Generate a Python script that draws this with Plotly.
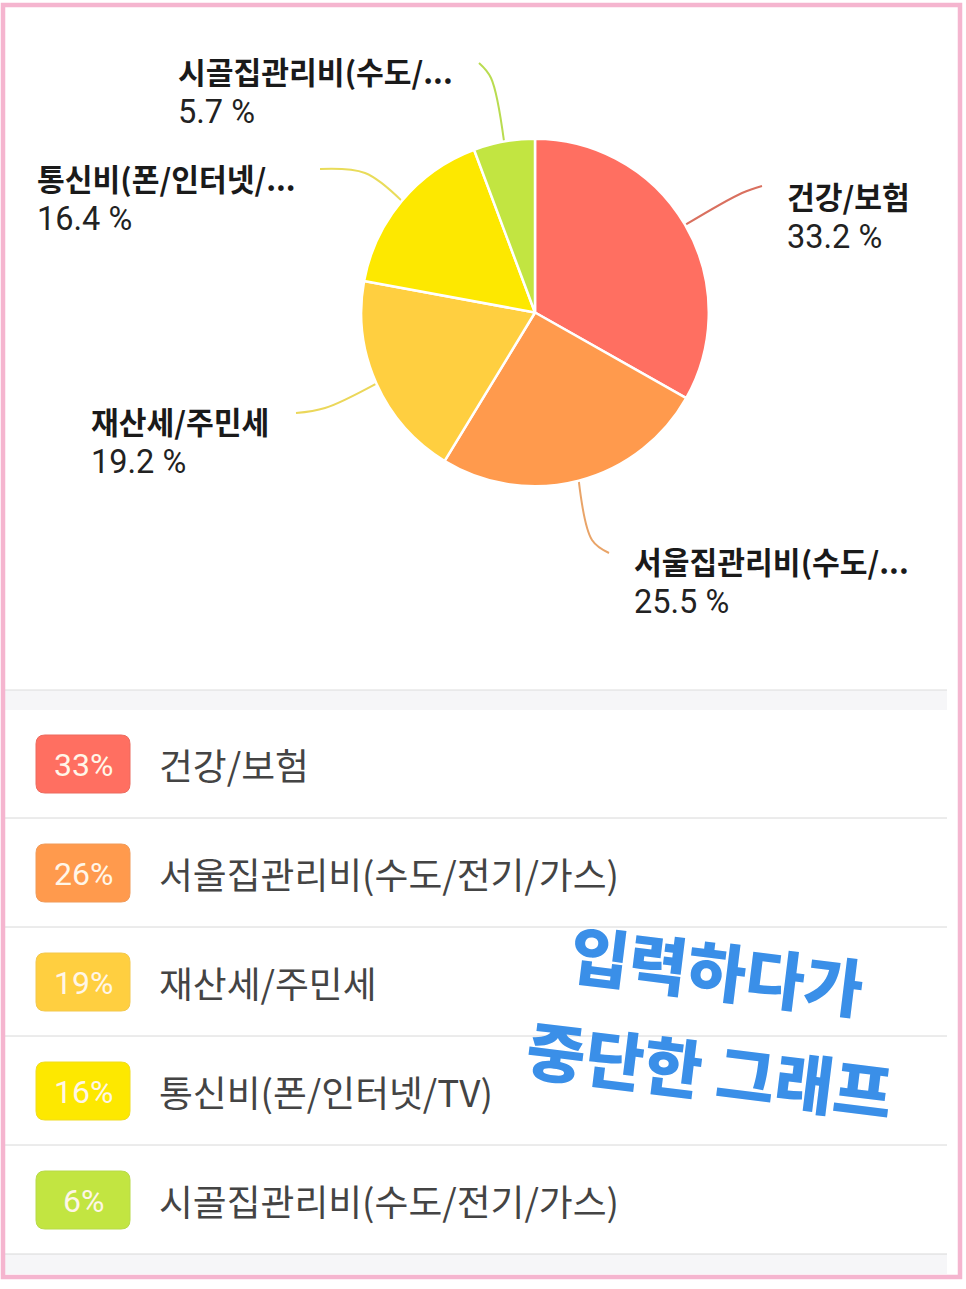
import math
import plotly.graph_objects as go

W, H = 966, 1289

# chart data
short_labels = ['건강/보험', '서울집관리비(수도/...', '재산세/주민세', '통신비(폰/인터넷/...', '시골집관리비(수도/...']
full_labels = ['건강/보험', '서울집관리비(수도/전기/가스)', '재산세/주민세', '통신비(폰/인터넷/TV)', '시골집관리비(수도/전기/가스)']
values = [33.2, 25.5, 19.2, 16.4, 5.7]
badge_text = ['33%', '26%', '19%', '16%', '6%']
colors = ['#FF6F61', '#FF9A4D', '#FFCF40', '#FDE800', '#C2E541']
badge_edges = ['#EC6A5E', '#F09A58', '#F3C84C', '#F0DC20', '#B8DA48']
line_colors = ['#D9705F', '#E9A468', '#EBD75A', '#E9DC5A', '#B9DC50']

# layout positions, in page pixels
cx, cy, r = 535, 312.5, 173.8
label_x = [785, 632, 89, 35, 176]
label_y = [196, 561, 421, 178, 71]
line_mid = [(742, 193), (592, 540), (325, 408), (365, 173), (491, 78)]
line_end = [(762, 186), (609, 553), (296, 413), (320, 169), (479, 63)]
row_y = [764, 873, 982, 1091, 1200]
row_lines = [818, 927, 1036, 1145, 1254]

FONT = 'Noto Sans CJK KR'

fig = go.Figure()

fig.add_trace(go.Pie(
    labels=full_labels, values=values, sort=False, direction='clockwise', rotation=0,
    marker=dict(colors=colors, line=dict(color='white', width=2.5)),
    textinfo='none', hoverinfo='skip', showlegend=False,
    domain=dict(x=[(cx - r) / W, (cx + r) / W], y=[1 - (cy + r) / H, 1 - (cy - r) / H]),
))

# leader lines start on the rim, at the middle of each slice
start = 0
for i, v in enumerate(values):
    a = math.radians((start + v / 2) * 3.6)
    start += v
    sx, sy = cx + r * math.sin(a), cy - r * math.cos(a)
    fig.add_trace(go.Scatter(
        x=[sx, line_mid[i][0], line_end[i][0]], y=[sy, line_mid[i][1], line_end[i][1]],
        mode='lines', line=dict(color=line_colors[i], width=2, shape='spline'),
        hoverinfo='skip', showlegend=False,
    ))

fig.update_xaxes(range=[0, W], visible=False, fixedrange=True)
fig.update_yaxes(range=[H, 0], visible=False, fixedrange=True)

shapes = []
# grey bands
shapes.append(dict(type='rect', x0=5, x1=947, y0=690, y1=710, fillcolor='#F6F6F8', line_width=0, layer='below'))
shapes.append(dict(type='rect', x0=5, x1=947, y0=1254, y1=1274, fillcolor='#F6F6F8', line_width=0, layer='below'))
shapes.append(dict(type='line', x0=5, x1=947, y0=690, y1=690, line=dict(color='#DCDCDC', width=1), layer='below'))
for y in row_lines:
    shapes.append(dict(type='line', x0=5, x1=947, y0=y, y1=y, line=dict(color='#D8D8D8', width=1), layer='below'))

# badges
for y, c, e in zip(row_y, colors, badge_edges):
    x0, x1, y0, y1, q = 36, 130, y - 29, y + 29, 9
    path = (f'M {x0+q} {y0} L {x1-q} {y0} Q {x1} {y0} {x1} {y0+q} L {x1} {y1-q} Q {x1} {y1} {x1-q} {y1} '
            f'L {x0+q} {y1} Q {x0} {y1} {x0} {y1-q} L {x0} {y0+q} Q {x0} {y0} {x0+q} {y0} Z')
    shapes.append(dict(type='path', path=path, fillcolor=c, line=dict(color=e, width=1), layer='below'))

# pink frame
shapes.append(dict(type='rect', x0=3, x1=960, y0=5, y1=1277, fillcolor='rgba(0,0,0,0)',
                   line=dict(color='#F5B5CF', width=4.5), layer='above'))

annotations = []
def text(x, y, s, size, color, family=FONT, anchor='left', angle=0, weight=400):
    annotations.append(dict(x=x, y=y, xref='x', yref='y', text=s, showarrow=False, xanchor=anchor, yanchor='middle',
                            font=dict(family=family, size=size, color=color, weight=weight), textangle=angle))

for i, s in enumerate(short_labels):
    text(label_x[i], label_y[i], s, 30.2, '#1A1A1A', weight=700)
    text(label_x[i], label_y[i] + 41, f'{values[i]} %', 32.5, '#222222', family='Roboto')

for i, s in enumerate(full_labels):
    text(83, row_y[i] + 1, badge_text[i], 32, '#FFF6E8', family='Roboto', anchor='center')
    text(157, row_y[i], s, 36.8, '#444444')

# overlaid note
text(717, 968, '입력하다가', 64, '#3A8FE8', anchor='center', angle=7, weight=900)
text(710, 1068, '중단한 그래프', 64, '#3A8FE8', anchor='center', angle=7, weight=900)

fig.update_layout(
    width=W, height=H, margin=dict(l=0, r=0, t=0, b=0),
    paper_bgcolor='white', plot_bgcolor='white',
    shapes=shapes, annotations=annotations,
)

fig.write_html("out.html", config=dict(displayModeBar=False), post_script="document.body.style.margin='0';")
